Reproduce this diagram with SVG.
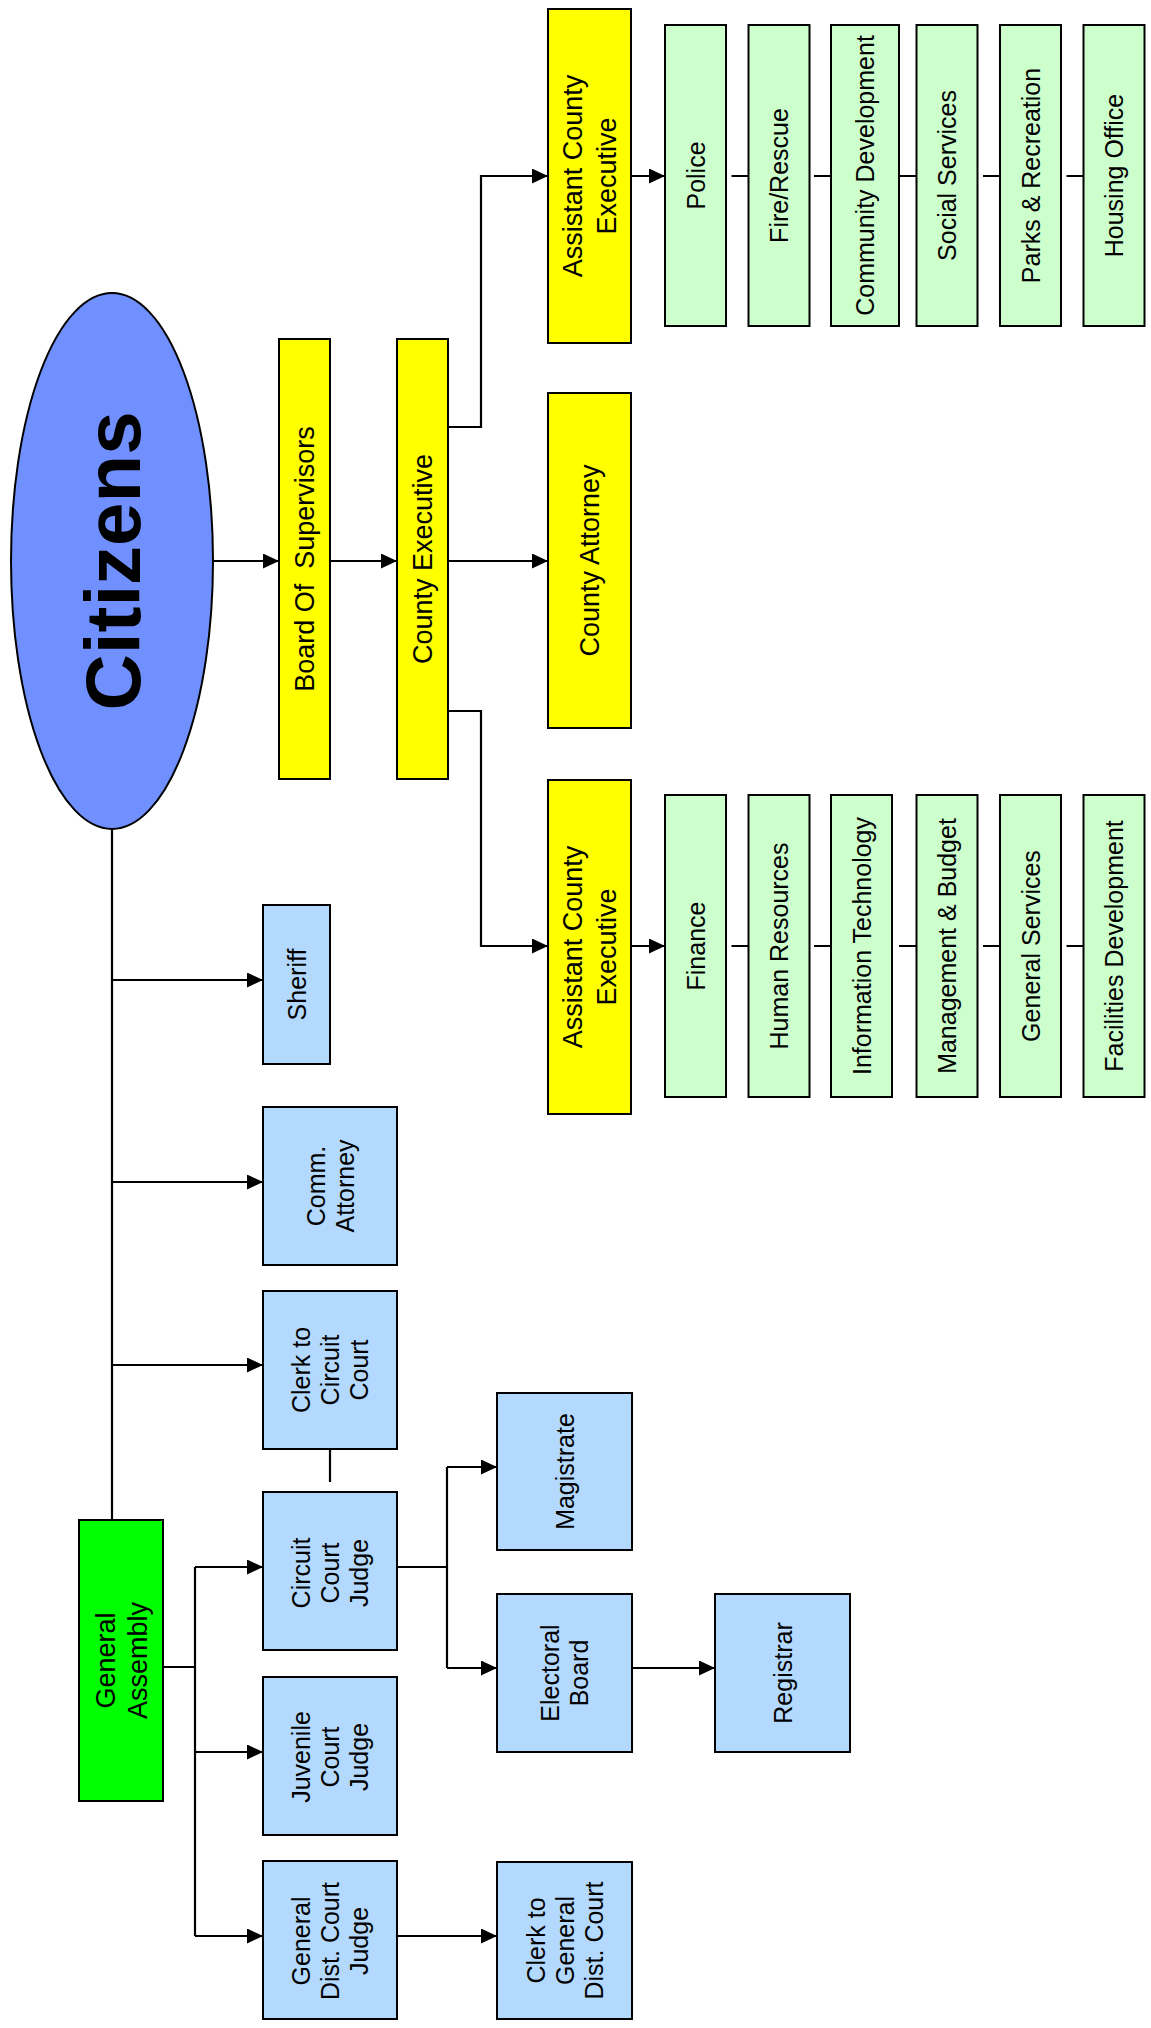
<svg xmlns="http://www.w3.org/2000/svg" width="1151" height="2028" viewBox="0 0 1151 2028">
<style>
.box{stroke:#000;stroke-width:2}
.yel{fill:#ffff00}
.grn{fill:#ccffcc}
.blu{fill:#b3d9ff}
.ga{fill:#00ff00}
.t{font-family:"Liberation Sans",Arial,sans-serif;text-anchor:middle;fill:#000}
.f25{font-size:25px}
.f27{font-size:27px}
.cit{font-size:78px;font-weight:bold}
.c{fill:none;stroke:#000;stroke-width:2.2}
.a{marker-end:url(#arr)}
</style>
<defs>
<marker id="arr" viewBox="0 0 16 15" refX="16" refY="7.5" markerWidth="16" markerHeight="15" markerUnits="userSpaceOnUse" orient="auto">
<path d="M0,0 L16,7.5 L0,15 z" fill="#000"/>
</marker>
</defs>
<rect width="1151" height="2028" fill="#fff"/>

<g id="connectors">
<path class="c a" d="M213,561 H279"/>
<path class="c a" d="M330,561 H397"/>
<path class="c a" d="M448,561 H548"/>
<path class="c a" d="M448,427 H481 V176 H548"/>
<path class="c a" d="M448,711 H481 V946 H548"/>
<path class="c a" d="M631,176 H665"/>
<path class="c a" d="M631,946 H665"/>
<path class="c" d="M731.5,176 H748.5 M814,176 H831 M899,176 H916.5 M983,176 H1000 M1066.5,176 H1083.5"/>
<path class="c" d="M731.5,946 H748.5 M814,946 H831 M899,946 H916.5 M983,946 H1000 M1066.5,946 H1083.5"/>
<path class="c" d="M112,829 V1519"/>
<path class="c a" d="M112,980 H263"/>
<path class="c a" d="M112,1182 H263"/>
<path class="c a" d="M112,1365 H263"/>
<path class="c" d="M163,1667 H195 M195,1567 V1936"/>
<path class="c a" d="M195,1567 H263"/>
<path class="c a" d="M195,1752 H263"/>
<path class="c a" d="M195,1936 H263"/>
<path class="c" d="M330,1449 V1482"/>
<path class="c" d="M397,1567 H447 M447,1467 V1668"/>
<path class="c a" d="M447,1467 H497"/>
<path class="c a" d="M447,1668 H497"/>
<path class="c a" d="M632,1668 H715"/>
<path class="c a" d="M397,1936 H497"/>
</g>

<g id="citizens">
<ellipse cx="112" cy="561" rx="101" ry="268" fill="#7090ff" stroke="#000" stroke-width="2"/>
<text class="t cit" transform="translate(112,561) rotate(-90)" y="28">Citizens</text>
</g>

<g id="board-of-supervisors">
<rect class="box yel" x="279" y="339" width="51" height="440"/>
<text class="t f27" transform="translate(304.5,559) rotate(-90)" y="9.5" xml:space="preserve">Board Of  Supervisors</text>
</g>
<g id="county-executive">
<rect class="box yel" x="397" y="339" width="51" height="440"/>
<text class="t f27" transform="translate(422.5,559) rotate(-90)" y="9.5">County Executive</text>
</g>
<g id="county-attorney">
<rect class="box yel" x="548" y="393" width="83" height="335"/>
<text class="t f27" transform="translate(589.5,560.5) rotate(-90)" y="9.5">County Attorney</text>
</g>
<g id="ace-top">
<rect class="box yel" x="548" y="9" width="83" height="334"/>
<text class="t f27" transform="translate(589.5,176) rotate(-90)"><tspan x="0" y="-7.5">Assistant County</tspan><tspan x="0" y="26.5">Executive</tspan></text>
</g>
<g id="ace-bottom">
<rect class="box yel" x="548" y="780" width="83" height="334"/>
<text class="t f27" transform="translate(589.5,947) rotate(-90)"><tspan x="0" y="-7.5">Assistant County</tspan><tspan x="0" y="26.5">Executive</tspan></text>
</g>

<g id="police">
<rect class="box grn" x="665" y="25" width="61" height="301"/>
<text class="t f25" transform="translate(695.5,175.5) rotate(-90)" y="9">Police</text>
</g>
<g id="fire-rescue">
<rect class="box grn" x="748.5" y="25" width="61" height="301"/>
<text class="t f25" transform="translate(779,175.5) rotate(-90)" y="9">Fire/Rescue</text>
</g>
<g id="community-development">
<rect class="box grn" x="831" y="25" width="68" height="301"/>
<text class="t f25" transform="translate(865,175.5) rotate(-90)" y="9">Community Development</text>
</g>
<g id="social-services">
<rect class="box grn" x="916.5" y="25" width="61" height="301"/>
<text class="t f25" transform="translate(947,175.5) rotate(-90)" y="9">Social Services</text>
</g>
<g id="parks-recreation">
<rect class="box grn" x="1000" y="25" width="61" height="301"/>
<text class="t f25" transform="translate(1030.5,175.5) rotate(-90)" y="9">Parks &amp; Recreation</text>
</g>
<g id="housing-office">
<rect class="box grn" x="1083.5" y="25" width="61" height="301"/>
<text class="t f25" transform="translate(1114,175.5) rotate(-90)" y="9">Housing Office</text>
</g>

<g id="finance">
<rect class="box grn" x="665" y="795" width="61" height="302"/>
<text class="t f25" transform="translate(695.5,946) rotate(-90)" y="9">Finance</text>
</g>
<g id="human-resources">
<rect class="box grn" x="748.5" y="795" width="61" height="302"/>
<text class="t f25" transform="translate(779,946) rotate(-90)" y="9">Human Resources</text>
</g>
<g id="information-technology">
<rect class="box grn" x="831" y="795" width="61" height="302"/>
<text class="t f25" transform="translate(861.5,946) rotate(-90)" y="9">Information Technology</text>
</g>
<g id="management-budget">
<rect class="box grn" x="916.5" y="795" width="61" height="302"/>
<text class="t f25" transform="translate(947,946) rotate(-90)" y="9">Management &amp; Budget</text>
</g>
<g id="general-services">
<rect class="box grn" x="1000" y="795" width="61" height="302"/>
<text class="t f25" transform="translate(1030.5,946) rotate(-90)" y="9">General Services</text>
</g>
<g id="facilities-development">
<rect class="box grn" x="1083.5" y="795" width="61" height="302"/>
<text class="t f25" transform="translate(1114,946) rotate(-90)" y="9">Facilities Development</text>
</g>

<g id="sheriff">
<rect class="box blu" x="263" y="905" width="67" height="159"/>
<text class="t f25" transform="translate(296.5,984.5) rotate(-90)" y="9">Sheriff</text>
</g>
<g id="comm-attorney">
<rect class="box blu" x="263" y="1107" width="134" height="158"/>
<text class="t f25" transform="translate(330,1186) rotate(-90)"><tspan x="0" y="-5.5">Comm.</tspan><tspan x="0" y="23.5">Attorney</tspan></text>
</g>
<g id="clerk-circuit-court">
<rect class="box blu" x="263" y="1291" width="134" height="158"/>
<text class="t f25" transform="translate(330,1370) rotate(-90)"><tspan x="0" y="-20">Clerk to</tspan><tspan x="0" y="9">Circuit</tspan><tspan x="0" y="38">Court</tspan></text>
</g>
<g id="circuit-court-judge">
<rect class="box blu" x="263" y="1492" width="134" height="158"/>
<text class="t f25" transform="translate(330,1573) rotate(-90)"><tspan x="0" y="-20">Circuit</tspan><tspan x="0" y="9">Court</tspan><tspan x="0" y="38">Judge</tspan></text>
</g>
<g id="juvenile-court-judge">
<rect class="box blu" x="263" y="1677" width="134" height="158"/>
<text class="t f25" transform="translate(330,1757) rotate(-90)"><tspan x="0" y="-20">Juvenile</tspan><tspan x="0" y="9">Court</tspan><tspan x="0" y="38">Judge</tspan></text>
</g>
<g id="general-district-court-judge">
<rect class="box blu" x="263" y="1861" width="134" height="158"/>
<text class="t f25" transform="translate(330,1941) rotate(-90)"><tspan x="0" y="-20">General</tspan><tspan x="0" y="9">Dist. Court</tspan><tspan x="0" y="38">Judge</tspan></text>
</g>
<g id="magistrate">
<rect class="box blu" x="497" y="1393" width="135" height="157"/>
<text class="t f25" transform="translate(564.5,1471.5) rotate(-90)" y="9">Magistrate</text>
</g>
<g id="electoral-board">
<rect class="box blu" x="497" y="1594" width="135" height="158"/>
<text class="t f25" transform="translate(564.5,1673) rotate(-90)"><tspan x="0" y="-5.5">Electoral</tspan><tspan x="0" y="23.5">Board</tspan></text>
</g>
<g id="registrar">
<rect class="box blu" x="715" y="1594" width="135" height="158"/>
<text class="t f25" transform="translate(782.5,1673) rotate(-90)" y="9">Registrar</text>
</g>
<g id="clerk-general-district-court">
<rect class="box blu" x="497" y="1862" width="135" height="157"/>
<text class="t f25" transform="translate(564.5,1940.5) rotate(-90)"><tspan x="0" y="-20">Clerk to</tspan><tspan x="0" y="9">General</tspan><tspan x="0" y="38">Dist. Court</tspan></text>
</g>
<g id="general-assembly">
<rect class="box ga" x="79" y="1520" width="84" height="281"/>
<text class="t f27" transform="translate(121,1660.5) rotate(-90)"><tspan x="0" y="-6.5">General</tspan><tspan x="0" y="25.5">Assembly</tspan></text>
</g>
</svg>
